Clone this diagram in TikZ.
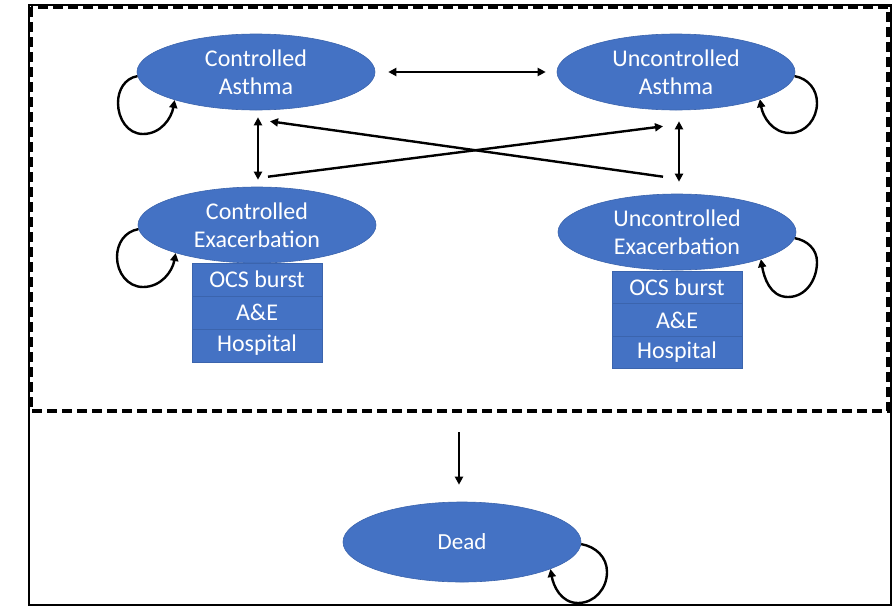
\documentclass[tikz,border=0pt]{standalone}
\usepackage{fontspec}
\setmainfont{Carlito}
\usetikzlibrary{shapes.geometric,arrows.meta,calc}
\definecolor{ofblue}{HTML}{4472C4}
\definecolor{ofedge}{HTML}{3B64AD}
\begin{document}
\begin{tikzpicture}[x=1pt,y=-1pt,
 state/.style={ellipse, fill=ofblue, draw=ofedge, line width=0.6pt, minimum width=238pt, minimum height=76pt, inner sep=0pt, text=white, font=\fontsize{24}{28}\selectfont, align=center},
 sub/.style={rectangle, fill=ofblue, draw=ofedge, line width=0.8pt, minimum width=130pt, minimum height=33pt, inner sep=0pt, text=white, font=\fontsize{24}{28}\selectfont},
 arr/.style={line width=2.4pt, -{Triangle[length=8pt,width=8pt]}},
 dbl/.style={line width=2.4pt, {Triangle[length=8pt,width=8pt]}-{Triangle[length=8pt,width=8pt]}},
 selfloop/.style={line width=2.4pt, -{Triangle[length=8pt,width=8pt]}},
]
\useasboundingbox (0,0) rectangle (896,608);
\draw[line width=1.5pt] (29,5) rectangle (891,605);
\draw[line width=3.2pt, dash pattern=on 10pt off 5pt] (31,7) rectangle (888,411);

\node[state] (CA) at (256,72) {Controlled\\Asthma};
\node[state] (UA) at (676,72) {Uncontrolled\\Asthma};
\node[state] (CE) at (257,225) {Controlled\\Exacerbation};
\node[state] (UE) at (677,232) {Uncontrolled\\Exacerbation};
\node[state, minimum height=80pt, font=\fontsize{23}{28}\selectfont] (D) at (462,542) {Dead};

\node[sub] (CE1) at (257,279.5) {OCS burst};
\node[sub] (CE2) at (257,312.5) {A\&E};
\node[sub] (CE3) at (257,345.5) {Hospital};
\node[sub, minimum height=32.5pt] (UE1) at (677,287.5) {OCS burst};
\node[sub, minimum height=32.5pt] (UE2) at (677,320) {A\&E};
\node[sub, minimum height=32.5pt] (UE3) at (677,352.5) {Hospital};

% connectors
\draw[dbl] ([xshift=13pt]CA.east) -- ([xshift=-11pt]UA.west);
\draw[dbl] ($(CA.south)+(2,7)$) -- ($(CE.north)+(1,-7)$);
\draw[dbl] ($(UA.south)+(3,11)$) -- ($(UE.north)+(2,-12)$);
\draw[arr] ($(CE.north)+(11,-10)$) -- ($(UA.south)+(-13,16)$);
\draw[arr] ($(UE.north)+(-14,-17)$) -- ($(CA.south)+(14,11)$);
\coordinate (dtop) at (459,432);
\draw[arr] (dtop) -- ($(D.north)+(-3,-17)$);

% self loops
\draw[selfloop] (CA.182) to[out=190,in=90] (118,103) to[out=-90,in=180] (143,134) to[out=0,in=-100] (CA.199);
\draw[selfloop] (UA.-2) to[out=-10,in=90] (817,103) to[out=-90,in=0] (790,133) to[out=180,in=-80] (UA.-18);
\draw[selfloop] (CE.182) to[out=190,in=90] (117,257) to[out=-90,in=180] (143,287) to[out=0,in=-100] (CE.199);
\draw[selfloop] (UE.-3) to[out=-10,in=90] (817,262) to[out=-90,in=0] (788,297) to[out=180,in=-80] (UE.-18);
\draw[selfloop] (D.-1) to[out=-10,in=90] (607,572) to[out=-90,in=0] (578,603) to[out=180,in=-80] (D.-17);
\end{tikzpicture}
\end{document}
